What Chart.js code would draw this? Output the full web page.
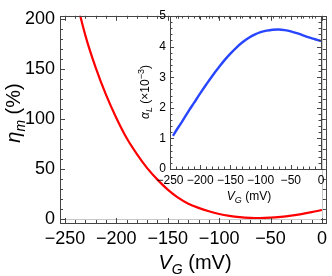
<!DOCTYPE html>
<html>
<head>
<meta charset="utf-8">
<script src="https://cdn.jsdelivr.net/npm/chart.js@4.4.1/dist/chart.umd.min.js"></script>
<style>
  html, body { margin: 0; padding: 0; background: #fff; }
  #wrap { position: relative; width: 332px; height: 276px; overflow: hidden; }
  #main { position: absolute; left: 0; top: 0; }
  #inset { position: absolute; left: 130px; top: 0; }
</style>
</head>
<body>
<div id="wrap">
  <canvas id="main" width="332" height="276"></canvas>
  <canvas id="inset" width="200" height="210"></canvas>
</div>
<script>
// ---- data ----
const etaV = [-250,-240,-230,-220,-210,-200,-190,-180,-170,-160,-150,-140,-130,-120,-110,-100,-90,-80,-70,-60,-50,-40,-30,-20,-10,0];
const eta  = [272,224,183,151,124,101,81,65,51,39.5,29.5,21.5,15.5,11.3,7.9,5.2,3.3,2.0,1.3,1.1,1.5,2.4,3.6,5.1,7.0,9.2];

const alphaV = [-245,-240,-230,-220,-210,-200,-190,-180,-170,-160,-150,-140,-130,-120,-110,-100,-90,-80,-70,-60,-50,-40,-30,-20,-10,0];
const alpha  = [1.08,1.25,1.55,1.87,2.17,2.47,2.76,3.04,3.30,3.55,3.77,3.97,4.14,4.28,4.39,4.47,4.52,4.55,4.56,4.54,4.50,4.44,4.37,4.30,4.24,4.18];

const xTicks = [-250,-200,-150,-100,-50,0];
const yTicks = [0,50,100,150,200];
const insetXTicks = [-250,-200,-150,-100,-50,0];
const insetYTicks = [0,1,2,3,4,5];

const FAM = '"Liberation Sans", Arial, sans-serif';
const fmt = v => (v < 0 ? '\u2212' + Math.abs(v) : String(v));

function drawRich(ctx, segs, cx, cy, rot) {
  ctx.save();
  ctx.translate(cx, cy);
  if (rot) ctx.rotate(rot);
  ctx.fillStyle = '#000';
  ctx.textBaseline = 'alphabetic';
  let w = 0;
  const font = s => (s.italic ? 'italic ' : '') + s.size + 'px ' + FAM;
  segs.forEach(s => { ctx.font = font(s); s.w = ctx.measureText(s.t).width; w += s.w; });
  let x = -w / 2;
  const base = segs[0].size * 0.36;
  segs.forEach(s => { ctx.font = font(s); ctx.fillText(s.t, x, base + (s.dy || 0)); x += s.w; });
  ctx.restore();
}

function framePlugin(cfg) {
  return {
    id: 'frameTicks_' + cfg.name,
    afterDraw(chart) {
      const ctx = chart.ctx, a = chart.chartArea;
      const xs = chart.scales.x, ys = chart.scales.y;
      ctx.save();
      if (cfg.zero) {
        ctx.strokeStyle = '#c8c8c8'; ctx.lineWidth = 1;
        const y0 = Math.round(ys.getPixelForValue(0)) + 0.5;
        ctx.beginPath(); ctx.moveTo(a.left, y0); ctx.lineTo(a.right, y0); ctx.stroke();
        const x0 = Math.round(xs.getPixelForValue(0)) + 0.5;
        ctx.beginPath(); ctx.moveTo(x0, a.top); ctx.lineTo(x0, a.bottom); ctx.stroke();
      }
      ctx.strokeStyle = '#444'; ctx.lineWidth = 1;
      ctx.strokeRect(Math.round(a.left) + 0.5, Math.round(a.top) + 0.5,
                     Math.round(a.right - a.left), Math.round(a.bottom - a.top));
      ctx.beginPath();
      for (let v = cfg.xMin; v <= cfg.xMax + 1e-9; v += cfg.xMinor) {
        const p = Math.round(xs.getPixelForValue(v)) + 0.5;
        if (p < a.left || p > a.right) continue;
        const major = Math.abs(v / cfg.xMajor - Math.round(v / cfg.xMajor)) < 1e-6;
        const L = major ? cfg.maj : cfg.min;
        ctx.moveTo(p, a.bottom); ctx.lineTo(p, a.bottom - L);
        ctx.moveTo(p, a.top); ctx.lineTo(p, a.top + L);
      }
      for (let v = cfg.yMin; v <= cfg.yMax + 1e-9; v += cfg.yMinor) {
        const p = Math.round(ys.getPixelForValue(v)) + 0.5;
        if (p < a.top || p > a.bottom) continue;
        const major = Math.abs(v / cfg.yMajor - Math.round(v / cfg.yMajor)) < 1e-6;
        const L = major ? cfg.maj : cfg.min;
        ctx.moveTo(a.left, p); ctx.lineTo(a.left + L, p);
        ctx.moveTo(a.right, p); ctx.lineTo(a.right - L, p);
      }
      ctx.stroke();
      ctx.restore();
      if (cfg.titles) cfg.titles(ctx);
    }
  };
}

// ---- main chart ----
new Chart(document.getElementById('main'), {
  type: 'scatter',
  data: { datasets: [{
    data: etaV.map((v, i) => ({ x: v, y: eta[i] })),
    showLine: true, borderColor: '#ff0000', borderWidth: 2.2,
    pointRadius: 0, cubicInterpolationMode: 'monotone'
  }]},
  options: {
    animation: false, responsive: false, devicePixelRatio: 1,
    layout: { padding: { top: 7, right: 3, left: 0, bottom: 0 } },
    plugins: { legend: { display: false }, tooltip: { enabled: false } },
    scales: {
      x: {
        type: 'linear', min: -254.8, max: 3.8,
        afterBuildTicks: s => { s.ticks = xTicks.map(v => ({ value: v })); },
        afterFit: s => { s.height = 53; },
        grid: { display: false, drawTicks: false }, border: { display: false },
        ticks: { color: '#000', font: { family: FAM, size: 18 }, padding: 5,
                 maxRotation: 0, autoSkip: false, callback: v => fmt(v) }
      },
      y: {
        type: 'linear', min: -3.8, max: 203,
        afterBuildTicks: s => { s.ticks = yTicks.map(v => ({ value: v })); },
        afterFit: s => { s.width = 60; },
        grid: { display: false, drawTicks: false }, border: { display: false },
        ticks: { color: '#000', font: { family: FAM, size: 18 }, padding: 5,
                 autoSkip: false, callback: v => fmt(v) }
      }
    }
  },
  plugins: [framePlugin({
    name: 'main', zero: true, maj: 5, min: 3,
    xMin: -250, xMax: 0, xMinor: 10, xMajor: 50,
    yMin: 0, yMax: 200, yMinor: 10, yMajor: 50,
    titles: ctx => {
      drawRich(ctx, [
        { t: 'V', italic: true, size: 20 },
        { t: 'G', italic: true, size: 14, dy: 5 },
        { t: ' (mV)', size: 20 }
      ], 195, 262, 0);
      drawRich(ctx, [
        { t: '\u03B7', italic: true, size: 20 },
        { t: 'm', italic: true, size: 14, dy: 5 },
        { t: ' (%)', size: 20 }
      ], 13, 113, -Math.PI / 2);
    }
  })]
});

// ---- inset chart ----
new Chart(document.getElementById('inset'), {
  type: 'scatter',
  data: { datasets: [{
    data: alphaV.map((v, i) => ({ x: v, y: alpha[i] })),
    showLine: true, borderColor: 'rgb(40,70,255)', borderWidth: 2.4,
    pointRadius: 0, tension: 0.4
  }]},
  options: {
    animation: false, responsive: false, devicePixelRatio: 1,
    layout: { padding: { top: 16, right: 9, left: 0, bottom: 0 } },
    plugins: { legend: { display: false }, tooltip: { enabled: false } },
    scales: {
      x: {
        type: 'linear', min: -250, max: 0,
        afterBuildTicks: s => { s.ticks = insetXTicks.map(v => ({ value: v })); },
        afterFit: s => { s.height = 41; },
        grid: { display: false, drawTicks: false }, border: { display: false },
        ticks: { color: '#000', font: { family: FAM, size: 12 }, padding: 4,
                 maxRotation: 0, autoSkip: false, callback: v => fmt(v) }
      },
      y: {
        type: 'linear', min: 0, max: 5,
        afterBuildTicks: s => { s.ticks = insetYTicks.map(v => ({ value: v })); },
        afterFit: s => { s.width = 40; },
        grid: { display: false, drawTicks: false }, border: { display: false },
        ticks: { color: '#000', font: { family: FAM, size: 12 }, padding: 4,
                 autoSkip: false, callback: v => fmt(v) }
      }
    }
  },
  plugins: [framePlugin({
    name: 'inset', zero: false, maj: 4, min: 2.5,
    xMin: -250, xMax: 0, xMinor: 10, xMajor: 50,
    yMin: 0, yMax: 5, yMinor: 0.2, yMajor: 1,
    titles: ctx => {
      drawRich(ctx, [
        { t: 'V', italic: true, size: 12 },
        { t: 'G', italic: true, size: 9, dy: 3 },
        { t: ' (mV)', size: 12 }
      ], 119, 196, 0);
      drawRich(ctx, [
        { t: '\u03B1', italic: true, size: 12 },
        { t: 'L', italic: true, size: 9, dy: 3 },
        { t: ' (\u00D710', size: 12 },
        { t: '\u22123', size: 9, dy: -5 },
        { t: ')', size: 12 }
      ], 15, 92, -Math.PI / 2);
    }
  })]
});
</script>
</body>
</html>
